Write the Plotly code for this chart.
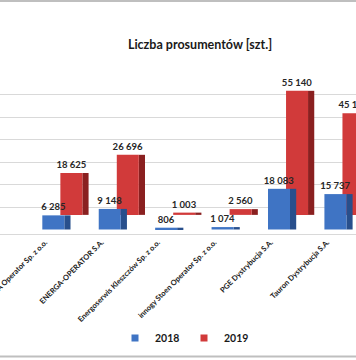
import plotly.graph_objects as go

categories = [
    "ENEA Operator Sp. z o.o.",
    "ENERGA-OPERATOR S.A.",
    "Energoserwis Kleszczów Sp. z o.o.",
    "innogy Stoen Operator Sp. z o.o.",
    "PGE Dystrybucja S.A.",
    "Tauron Dystrybucja S.A.",
]
values_2018 = [6285, 9148, 806, 1074, 18083, 15737]
values_2019 = [18625, 26696, 1003, 2560, 55140, 45131]
series_names = ["2018", "2019"]

def fmt(v):
    return f"{v:,}".replace(",", " ")

BLUE, BLUE_SIDE = "#3f74c4", "#284f8c"
RED, RED_SIDE = "#d13a3a", "#8a2020"
FONT = "Lato"
RED_DEPTH = 6500   # visual depth offset of the back row (3D look)
LABEL_FONT = dict(family=FONT, size=9.5, color="#262626", weight="bold")

fig = go.Figure()

# back row (2019): side face then front face
fig.add_trace(go.Bar(x=categories, y=values_2019, base=RED_DEPTH, offset=0.66, width=0.11,
                     marker=dict(color=RED_SIDE, line=dict(width=0)), showlegend=False, hoverinfo="skip"))
fig.add_trace(go.Bar(x=categories, y=values_2019, base=RED_DEPTH, offset=0.27, width=0.39,
                     marker=dict(color=RED, line=dict(width=0)), showlegend=False,
                     text=[fmt(v) for v in values_2019], textposition="outside", constraintext="none",
                     textfont=LABEL_FONT, cliponaxis=False))
# front row (2018)
fig.add_trace(go.Bar(x=categories, y=values_2018, base=0, offset=0.34, width=0.11,
                     marker=dict(color=BLUE_SIDE, line=dict(width=0)), showlegend=False, hoverinfo="skip"))
fig.add_trace(go.Bar(x=categories, y=values_2018, base=0, offset=-0.05, width=0.39,
                     marker=dict(color=BLUE, line=dict(width=0)), showlegend=False,
                     text=[fmt(v) for v in values_2018], textposition="outside", constraintext="none",
                     textfont=LABEL_FONT, cliponaxis=False))

# legend entries
for name, col in zip(series_names, [BLUE, RED]):
    fig.add_trace(go.Scatter(x=[None], y=[None], mode="markers", name=name,
                             marker=dict(symbol="square", size=7, color=col)))

fig.update_layout(
    width=356, height=360,
    margin=dict(l=0, r=0, t=72, b=126, autoexpand=False),
    paper_bgcolor="white", plot_bgcolor="white",
    barmode="overlay",
    title=dict(text="<b>Liczba prosumentów [szt.]</b>", x=200/356, xref="container", xanchor="center",
               y=1 - 45/360, yref="container", yanchor="middle",
               font=dict(family=FONT, size=12.5, color="#1a1a1a")),
    legend=dict(orientation="h", x=115/356, xanchor="left", y=-0.642, yanchor="middle",
                entrywidth=24, entrywidthmode="pixels", itemwidth=30,
                font=dict(family=FONT, size=10.5, color="#1a1a1a", weight="bold"), bgcolor="rgba(0,0,0,0)"),
    font=dict(family=FONT),
    shapes=[
        dict(type="line", xref="paper", yref="paper", x0=-1, x1=2, y0=(234 - 1) / 162, y1=(234 - 1) / 162,
             line=dict(color="#bfbfbf", width=2)),
        dict(type="line", xref="paper", yref="paper", x0=-1, x1=2, y0=(234 - 356.5) / 162, y1=(234 - 356.5) / 162,
             line=dict(color="#bfbfbf", width=2)),
    ],
)
fig.update_xaxes(range=[-0.80, 5.51], tickangle=-45, showgrid=False, ticks="", automargin=False,
                 tickfont=dict(family=FONT, size=7.5, color="#1a1a1a", weight="bold"),
                 showline=True, linecolor="#d9d9d9", linewidth=1)
fig.update_yaxes(range=[-2000, 70000], tickvals=[10000, 20000, 30000, 40000, 50000, 60000, 70000],
                 showticklabels=False, gridcolor="#d9d9d9", gridwidth=1, zeroline=False, automargin=False)

fig.write_html("out.html", config={"displayModeBar": False},
               post_script="document.body.style.margin='0';document.body.style.overflow='hidden';")
